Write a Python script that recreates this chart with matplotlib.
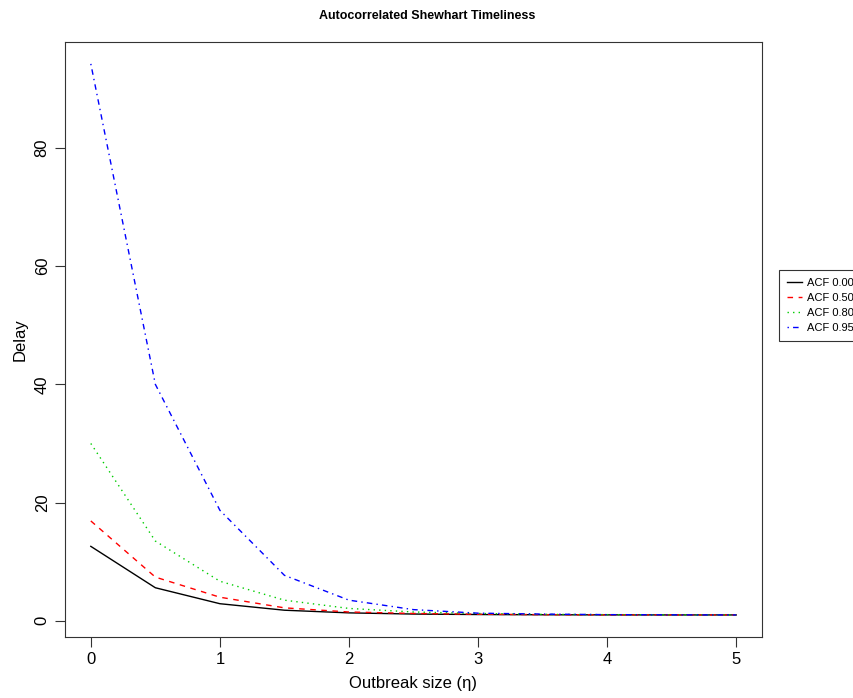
import matplotlib
matplotlib.use("Agg")
import matplotlib.pyplot as plt

plt.rcParams['font.family'] = ['Liberation Sans', 'DejaVu Sans']

outbreak_size = [0, 0.5, 1, 1.5, 2, 2.5, 3, 3.5, 4, 4.5, 5]
acf_000 = [12.6, 5.6, 2.9, 1.8, 1.35, 1.15, 1.07, 1.03, 1.01, 1.0, 1.0]
acf_050 = [16.9, 7.4, 4.0, 2.2, 1.5, 1.25, 1.12, 1.05, 1.02, 1.01, 1.0]
acf_080 = [30.0, 13.5, 6.7, 3.5, 2.1, 1.5, 1.25, 1.1, 1.05, 1.02, 1.0]
acf_095 = [94.2, 40.0, 18.7, 7.7, 3.5, 1.9, 1.3, 1.15, 1.05, 1.02, 1.0]
series_labels = ['ACF 0.00', 'ACF 0.50', 'ACF 0.80', 'ACF 0.95']
x_ticks = [0, 1, 2, 3, 4, 5]
y_ticks = [0, 20, 40, 60, 80]

fig = plt.figure(figsize=(8.54, 6.98), dpi=100)
ax = fig.add_axes([65/854, 61/698, 697/854, 595/698])

styles = [
    dict(color='black', linestyle='-'),
    dict(color='#ff0000', linestyle=(0, (4, 4))),
    dict(color='#00cd00', linestyle=(0, (1, 3))),
    dict(color='#0000ff', linestyle=(0, (1, 3, 4, 3))),
]
for ys, lab, st in zip([acf_000, acf_050, acf_080, acf_095], series_labels, styles):
    ax.plot(outbreak_size, ys, lw=1.0, label=lab, **st)

ax.set_xlim(-0.2, 5.2)
ax.set_ylim(-2.73, 97.9)
ax.set_xticks(x_ticks)
ax.set_yticks(y_ticks)
ax.tick_params(direction='out', length=7, width=0.8, color='#333333', labelsize=12, pad=4)
for lbl in ax.get_yticklabels():
    lbl.set_rotation(90)
    lbl.set_va('center')
for sp in ax.spines.values():
    sp.set_color('#333333')
    sp.set_linewidth(0.8)

ax.set_xlabel('Outbreak size (η)', fontsize=12, labelpad=6)
ax.set_ylabel('Delay', fontsize=12, labelpad=5)
fig.suptitle('Autocorrelated Shewhart Timeliness', fontsize=9, fontweight='bold', y=0.985)

leg = fig.legend(loc='upper left', bbox_to_anchor=(779/854, 1 - 270/698),
                 fontsize=8, frameon=True, fancybox=False, edgecolor='black',
                 handlelength=1.4, borderpad=0.7, labelspacing=0.45, handletextpad=0.4,
                 borderaxespad=0.0)
leg.get_frame().set_linewidth(0.8)

fig.savefig('out.png', dpi=100)
